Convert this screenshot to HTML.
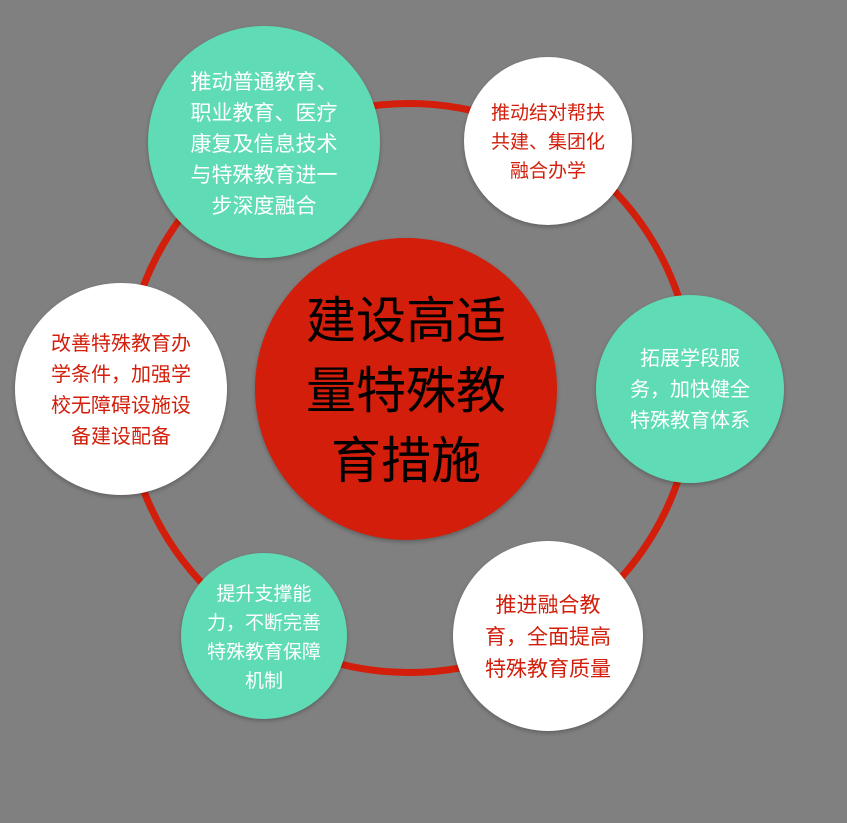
<!DOCTYPE html>
<html><head><meta charset="utf-8"><style>
html,body{margin:0;padding:0}
body{width:847px;height:823px;background:#808080;position:relative;overflow:hidden;font-family:"Liberation Sans","Noto Sans CJK SC",sans-serif}
.c{position:absolute;border-radius:50%;display:flex;align-items:center;justify-content:center;text-align:center;box-shadow:0 2px 4px rgba(0,0,0,0.25)}
.t{background:#5fdbb5;color:#fff}
.w{background:#fff;color:#d21e0a}
.ring{position:absolute;left:121px;top:100px;width:562px;height:562px;border:7px solid #d21e0a;border-radius:50%}
</style></head><body>
<div class="ring"></div>
<div class="c" style="left:255px;top:238px;width:302px;height:302px;background:#d21e0a;color:#000;font-size:50px;line-height:70px"><div style="margin-top:4px">建设高适<br>量特殊教<br>育措施</div></div>
<div class="c t" style="left:148px;top:26px;width:232px;height:232px;font-size:21px;line-height:31px"><div style="margin-top:4px">推动普通教育、<br>职业教育、医疗<br>康复及信息技术<br>与特殊教育进一<br>步深度融合</div></div>
<div class="c w" style="left:464px;top:57px;width:168px;height:168px;font-size:19px;line-height:29px"><div style="margin-top:2px">推动结对帮扶<br>共建、集团化<br>融合办学</div></div>
<div class="c t" style="left:596px;top:295px;width:188px;height:188px;font-size:20px;line-height:31px"><div style="margin-top:2px">拓展学段服<br>务，加快健全<br>特殊教育体系</div></div>
<div class="c w" style="left:453px;top:541px;width:190px;height:190px;font-size:21px;line-height:32px"><div style="margin-top:4px">推进融合教<br>育，全面提高<br>特殊教育质量</div></div>
<div class="c t" style="left:181px;top:553px;width:166px;height:166px;font-size:19px;line-height:29px"><div style="margin-top:4px">提升支撑能<br>力，不断完善<br>特殊教育保障<br>机制</div></div>
<div class="c w" style="left:15px;top:283px;width:212px;height:212px;font-size:20px;line-height:31px"><div style="margin-top:4px">改善特殊教育办<br>学条件，加强学<br>校无障碍设施设<br>备建设配备</div></div>
</body></html>
